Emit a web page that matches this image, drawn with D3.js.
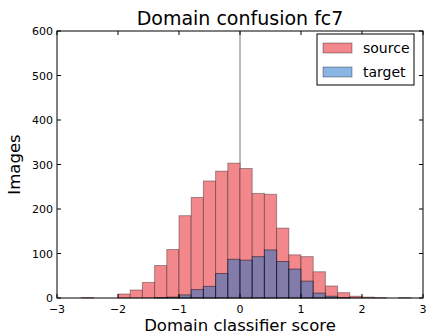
<!DOCTYPE html>
<html>
<head>
<meta charset="utf-8">
<script src="https://cdn.jsdelivr.net/npm/d3@7"></script>
<style>
  body { margin: 0; background: #fff; }
  text { font-family: "DejaVu Sans", sans-serif; fill: #000; }
</style>
</head>
<body>
<div id="chart"></div>
<script>
// bin edges: -3 .. 3 in steps of 0.2
const binStart = -3;
const binWidth = 0.2;

// counts per bin (30 bins)
const sourceCounts = [
  0, 0, 1, 0, 0,
  9, 18, 35, 73, 109,
  185, 226, 263, 285, 303,
  291, 235, 233, 157, 97,
  93, 59, 27, 12, 4,
  2, 1, 0, 1, 0
];
const targetCounts = [
  0, 0, 0, 0, 0,
  0, 0, 0, 1, 2,
  7, 19, 26, 55, 87,
  85, 93, 108, 82, 65,
  38, 11, 4, 1, 0,
  0, 0, 0, 0, 0
];

const xTicks = [-3, -2, -1, 0, 1, 2, 3];
const yTicks = [0, 100, 200, 300, 400, 500, 600];
const legendLabels = ['source', 'target'];

const W = 427, H = 336;
const margin = { left: 57, right: 4, top: 31, bottom: 38 };

const svg = d3.select('#chart')
  .append('svg')
  .attr('width', W)
  .attr('height', H);

const x = d3.scaleLinear().domain([-3, 3]).range([margin.left, W - margin.right]);
const y = d3.scaleLinear().domain([0, 600]).range([H - margin.bottom, margin.top]);

const toBins = (counts) => counts.map((c, i) => ({
  x0: binStart + i * binWidth,
  x1: binStart + (i + 1) * binWidth,
  n: c
})).filter(d => d.n > 0);

// zero line
svg.append('line')
  .attr('x1', x(0)).attr('x2', x(0))
  .attr('y1', y(600)).attr('y2', y(0))
  .attr('stroke', '#777')
  .attr('stroke-width', 1);

// source bars
svg.append('g')
  .selectAll('rect')
  .data(toBins(sourceCounts))
  .join('rect')
  .attr('x', d => x(d.x0))
  .attr('width', d => x(d.x1) - x(d.x0))
  .attr('y', d => y(d.n))
  .attr('height', d => y(0) - y(d.n))
  .attr('fill', 'rgb(242,136,140)')
  .attr('stroke', '#000')
  .attr('stroke-opacity', 0.35)
  .attr('stroke-width', 1);

// target bars
svg.append('g')
  .selectAll('rect')
  .data(toBins(targetCounts))
  .join('rect')
  .attr('x', d => x(d.x0))
  .attr('width', d => x(d.x1) - x(d.x0))
  .attr('y', d => y(d.n))
  .attr('height', d => y(0) - y(d.n))
  .attr('fill', 'rgb(20,110,200)')
  .attr('fill-opacity', 0.5)
  .attr('stroke', '#000')
  .attr('stroke-opacity', 0.45)
  .attr('stroke-width', 1);

// frame
const x0 = x(-3), x1 = x(3), y0 = y(0), y1 = y(600);
svg.append('rect')
  .attr('x', x0).attr('y', y1)
  .attr('width', x1 - x0).attr('height', y0 - y1)
  .attr('fill', 'none')
  .attr('stroke', '#000')
  .attr('stroke-width', 1);

// ticks, inward, all four sides
const tickLen = 4;
const ticks = svg.append('g').attr('stroke', '#000').attr('stroke-width', 1);
xTicks.forEach(t => {
  ticks.append('line').attr('x1', x(t)).attr('x2', x(t)).attr('y1', y0).attr('y2', y0 - tickLen);
  ticks.append('line').attr('x1', x(t)).attr('x2', x(t)).attr('y1', y1).attr('y2', y1 + tickLen);
});
yTicks.forEach(t => {
  ticks.append('line').attr('x1', x0).attr('x2', x0 + tickLen).attr('y1', y(t)).attr('y2', y(t));
  ticks.append('line').attr('x1', x1).attr('x2', x1 - tickLen).attr('y1', y(t)).attr('y2', y(t));
});

// tick labels
svg.append('g')
  .selectAll('text')
  .data(xTicks)
  .join('text')
  .attr('x', d => x(d))
  .attr('y', y0 + 15)
  .attr('text-anchor', 'middle')
  .style('font-size', '11px')
  .text(d => d < 0 ? '\u2212' + Math.abs(d) : d);

svg.append('g')
  .selectAll('text')
  .data(yTicks)
  .join('text')
  .attr('x', x0 - 4)
  .attr('y', d => y(d) + 4)
  .attr('text-anchor', 'end')
  .style('font-size', '11px')
  .text(d => d);

// titles
svg.append('text')
  .attr('x', (x0 + x1) / 2)
  .attr('y', 25)
  .attr('text-anchor', 'middle')
  .style('font-size', '19px')
  .text('Domain confusion fc7');

svg.append('text')
  .attr('x', (x0 + x1) / 2)
  .attr('y', 331)
  .attr('text-anchor', 'middle')
  .style('font-size', '16.5px')
  .text('Domain classifier score');

svg.append('text')
  .attr('transform', `translate(20,${(y0 + y1) / 2}) rotate(-90)`)
  .attr('text-anchor', 'middle')
  .style('font-size', '16.5px')
  .text('Images');

// legend
const legendColors = ['rgb(242,136,140)', 'rgb(137,182,227)'];
const lg = svg.append('g');
lg.append('rect')
  .attr('x', 317).attr('y', 34)
  .attr('width', 97).attr('height', 51)
  .attr('fill', '#fff')
  .attr('stroke', '#000')
  .attr('stroke-width', 1);
legendLabels.forEach((name, i) => {
  lg.append('rect')
    .attr('x', 323).attr('y', 43 + i * 24)
    .attr('width', 29).attr('height', 10)
    .attr('fill', legendColors[i])
    .attr('stroke', '#000')
    .attr('stroke-opacity', 0.35);
  lg.append('text')
    .attr('x', 363).attr('y', 53 + i * 24)
    .style('font-size', '14px')
    .text(name);
});
</script>
</body>
</html>
